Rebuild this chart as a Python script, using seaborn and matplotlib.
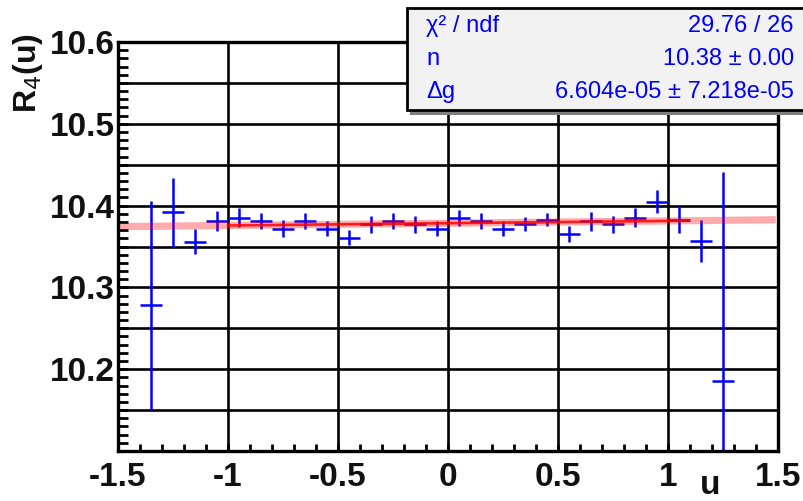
import numpy as np
import matplotlib
matplotlib.use("Agg")
import matplotlib.pyplot as plt
import seaborn as sns
import pandas as pd
from matplotlib.patches import Rectangle

# ---- data ----
u_vals = [-1.35, -1.25, -1.15, -1.05, -0.95, -0.85, -0.75, -0.65, -0.55, -0.45,
          -0.35, -0.25, -0.15, -0.05, 0.05, 0.15, 0.25, 0.35, 0.45, 0.55,
          0.65, 0.75, 0.85, 0.95, 1.05, 1.15, 1.25]
r_vals = [10.278, 10.392, 10.356, 10.381, 10.385, 10.381, 10.372, 10.381, 10.372, 10.361,
          10.377, 10.381, 10.377, 10.372, 10.385, 10.381, 10.372, 10.377, 10.383, 10.365,
          10.381, 10.377, 10.385, 10.405, 10.383, 10.357, 10.186]
r_errs = [0.128, 0.042, 0.0155, 0.012, 0.0115, 0.010, 0.0105, 0.010, 0.009, 0.0095,
          0.0105, 0.010, 0.0105, 0.009, 0.0095, 0.010, 0.009, 0.0085, 0.008, 0.010,
          0.0115, 0.010, 0.0115, 0.0135, 0.016, 0.026, 0.255]
u_half_width = 0.05

fit_intercept = 10.3785
fit_slope = 0.0028
band_range = [-1.5, 1.49]
line_range = [-1.0, 1.1]

stat_labels = ["\u03c7\u00b2 / ndf", "n", "\u0394g"]
stat_values = ["29.76 / 26", "10.38 \u00b1 0.00", "6.604e-05 \u00b1 7.218e-05"]

x_ticks = [-1.5, -1, -0.5, 0, 0.5, 1, 1.5]
x_ticklabels = ["-1.5", "-1", "-0.5", "0", "0.5", "1", "1.5"]
y_grid = [10.1, 10.15, 10.2, 10.25, 10.3, 10.35, 10.4, 10.45, 10.5, 10.55, 10.6]
y_ticklabels = ["", "", "10.2", "", "10.3", "", "10.4", "", "10.5", "", "10.6"]

# ---- style ----
sns.set_theme(style="white")
plt.rcParams["font.family"] = ["Liberation Sans", "DejaVu Sans"]
plt.rcParams["axes.unicode_minus"] = False

W, H = 804, 501
fig = plt.figure(figsize=(W / 100, H / 100), dpi=100)
fig.patch.set_facecolor("white")
ax = fig.add_axes([118 / W, (H - 451) / H, (778 - 118) / W, (451 - 42) / H])
ax.set_facecolor("white")

ax.set_xlim(-1.5, 1.5)
ax.set_ylim(10.1, 10.6)

# grid
for gx in x_ticks[1:-1]:
    ax.axvline(gx, color="black", lw=1.9, zorder=1)
for gy in y_grid[1:-1]:
    ax.axhline(gy, color="black", lw=1.9, zorder=1)

# data
ax.errorbar(u_vals, r_vals, yerr=r_errs, xerr=u_half_width, fmt="none",
            ecolor="#0000ff", elinewidth=1.8, capsize=0, zorder=3)

# fit band and fit line
band_df = pd.DataFrame({"u": band_range})
band_df["r"] = fit_intercept + fit_slope * band_df["u"]
line_df = pd.DataFrame({"u": line_range})
line_df["r"] = fit_intercept + fit_slope * line_df["u"]
sns.lineplot(data=band_df, x="u", y="r", ax=ax, color="#ff0000", alpha=0.33,
             lw=5.2, zorder=4, solid_capstyle="butt")
sns.lineplot(data=line_df, x="u", y="r", ax=ax, color="#ff0000", alpha=0.85,
             lw=1.9, zorder=5, solid_capstyle="butt")

# ticks
ax.set_xticks(x_ticks)
ax.set_xticklabels(x_ticklabels)
ax.set_xticks(np.round(np.arange(-1.5, 1.5001, 0.1), 2), minor=True)
ax.set_yticks(y_grid)
ax.set_yticklabels(y_ticklabels)
ax.set_yticks(np.round(np.arange(10.1, 10.6001, 0.01), 3), minor=True)
ax.tick_params(axis="both", which="both", direction="in", color="black",
               width=2.0, top=False, right=False, left=True, bottom=True)
ax.tick_params(axis="y", which="both", length=7.0, pad=2)
ax.tick_params(axis="x", which="both", length=5.2, pad=8)
for lab in ax.get_xticklabels() + ax.get_yticklabels():
    lab.set_fontsize(24)
    lab.set_fontweight("bold")
    lab.set_color("#111111")

ax.set_xlabel("")
ax.set_ylabel("")
for s in ax.spines.values():
    s.set_color("black")
    s.set_linewidth(2.4)
    s.set_zorder(6)

# axis titles
fig.text(710 / W, 1 - 486 / H, "u", fontsize=24, fontweight="bold",
         ha="center", va="center", color="#111111")
fig.text(28 / W, 1 - 33 / H, r"R$_4$(u)", fontsize=23, fontweight="bold",
         rotation=90, ha="center", va="top", color="#111111")

# stats box
shadow = Rectangle((410 / W, 1 - 115 / H), (W + 10 - 410) / W, (115 - 12) / H,
                   transform=fig.transFigure, facecolor="#7f7f7f",
                   edgecolor="none", zorder=10)
box = Rectangle((407 / W, 1 - 110 / H), (W + 10 - 407) / W, (110 - 8) / H,
                transform=fig.transFigure, facecolor="#f2f2f2",
                edgecolor="black", lw=2.0, zorder=11)
fig.add_artist(shadow)
fig.add_artist(box)
rows_y = [26, 59, 92]
for lab, val, yy in zip(stat_labels, stat_values, rows_y):
    fig.text(426 / W, 1 - yy / H, lab, fontsize=17, color="#0000ff",
             ha="left", va="center", zorder=12)
    fig.text(794 / W, 1 - yy / H, val, fontsize=17, color="#0000ff",
             ha="right", va="center", zorder=12)

fig.savefig("out.png", dpi=100)
